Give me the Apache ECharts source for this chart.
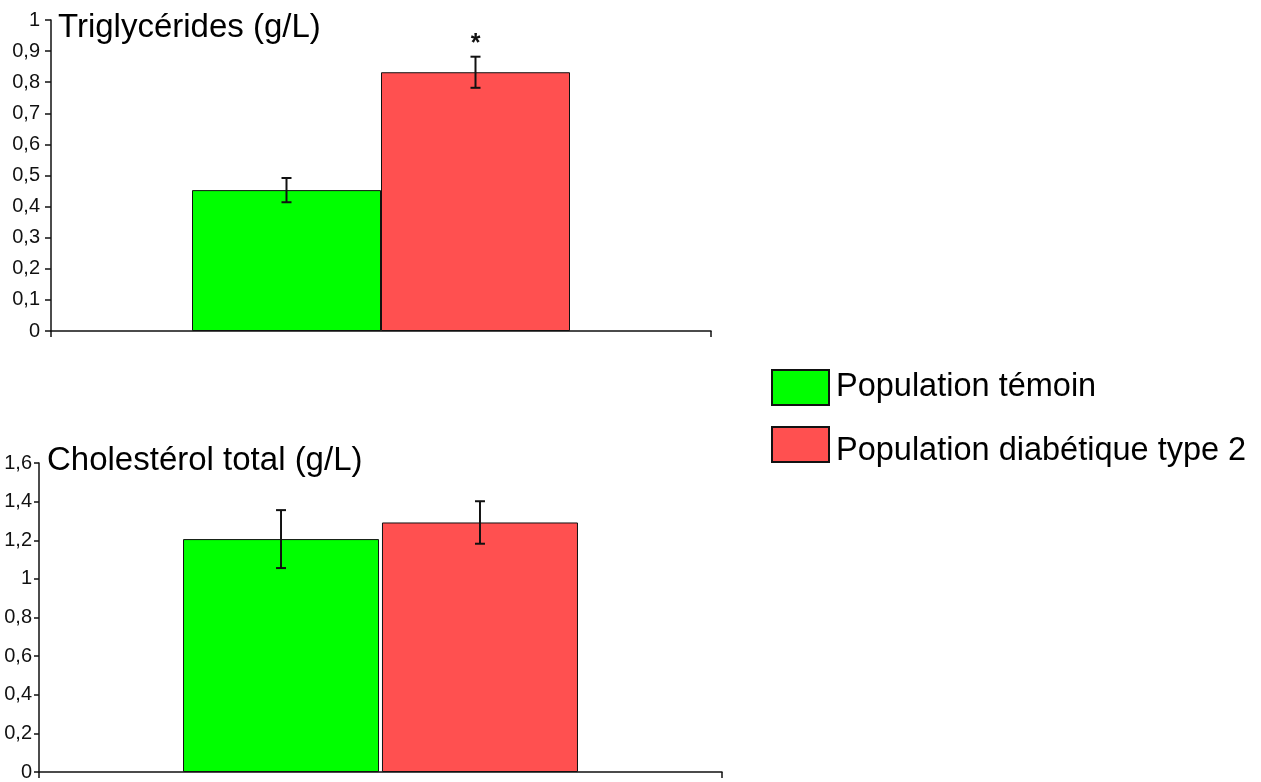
<!DOCTYPE html>
<html>
<head>
<meta charset="utf-8">
<script src="https://cdn.jsdelivr.net/npm/echarts@6/dist/echarts.min.js"></script>
<style>
html,body{margin:0;padding:0;background:#fff;}
#chart{width:1261px;height:782px;}
</style>
</head>
<body>
<div id="chart"></div>
<script>
// ---- data ----
var groups = ['Population témoin', 'Population diabétique type 2'];
var trigTitle = 'Triglycérides (g/L)';
var cholTitle = 'Cholestérol total (g/L)';
var trigMean = [0.453, 0.832];
var trigErr = [0.039, 0.050];
var trigSig = ['', '*'];
var cholMean = [1.206, 1.292];
var cholErr = [0.150, 0.110];
var cholSig = ['', ''];
var trigTicks = {min: 0, max: 1, interval: 0.1};
var cholTicks = {min: 0, max: 1.6, interval: 0.2};

var colors = ['#00ff00', '#ff5050'];
var FONT = '"Liberation Sans", Arial, sans-serif';

function fmt(v) {
  var s = (Math.round(v * 10) / 10).toString();
  return s.replace('.', ',');
}

function errData(mean, err) {
  return mean.map(function (m, i) { return [0, m - err[i], m + err[i], i]; });
}

function makeErr(bw, gap, sig) {
  return function (params, api) {
    var lo = api.value(1), hi = api.value(2), s = api.value(3);
    var pLo = api.coord([0, lo]);
    var pHi = api.coord([0, hi]);
    var x = pLo[0] + (s - 0.5) * (bw + gap);
    var cap = 5;
    var st = {stroke: '#111', lineWidth: 2};
    var children = [
      {type: 'line', shape: {x1: x, y1: pLo[1], x2: x, y2: pHi[1]}, style: st},
      {type: 'line', shape: {x1: x - cap, y1: pLo[1], x2: x + cap, y2: pLo[1]}, style: st},
      {type: 'line', shape: {x1: x - cap, y1: pHi[1], x2: x + cap, y2: pHi[1]}, style: st}
    ];
    if (sig[s]) {
      children.push({type: 'text', style: {text: sig[s], x: x, y: pHi[1],
        fill: '#111', font: 'bold 25px ' + FONT, textAlign: 'center', textVerticalAlign: 'bottom'}});
    }
    return {type: 'group', children: children};
  };
}

function yAxis(idx, t, margin, tick) {
  return {
    type: 'value', gridIndex: idx, min: t.min, max: t.max, interval: t.interval,
    splitLine: {show: false},
    axisLine: {show: true, lineStyle: {color: '#111', width: 1.5}},
    axisTick: {show: true, length: tick, lineStyle: {color: '#111', width: 1.5}},
    axisLabel: {formatter: fmt, color: '#111', fontFamily: FONT, fontSize: 20, margin: margin}
  };
}
function xAxis(idx, name) {
  return {
    type: 'category', gridIndex: idx, data: [name], boundaryGap: true,
    axisLine: {show: true, lineStyle: {color: '#111', width: 1.5}},
    axisTick: {show: true, length: 6, lineStyle: {color: '#111', width: 1.5}},
    axisLabel: {show: false}
  };
}
function bar(name, idx, vals, i, bw, gap) {
  return {
    type: 'bar', name: name, xAxisIndex: idx, yAxisIndex: idx,
    data: [vals[i]], barWidth: bw, barGap: gap,
    itemStyle: {color: colors[i], borderColor: '#111', borderWidth: 1},
    emphasis: {disabled: true}
  };
}

var TBW = 189, BBW = 196;
var option = {
  animation: false,
  backgroundColor: '#fff',
  title: [
    {text: trigTitle, left: 53, top: 6, textStyle: {fontFamily: FONT, fontSize: 33, fontWeight: 'normal', color: '#000'}},
    {text: cholTitle, left: 42, top: 439, textStyle: {fontFamily: FONT, fontSize: 33, fontWeight: 'normal', color: '#000'}}
  ],
  legend: {
    data: groups,
    formatter: function (name) { return name === groups[1] ? '{low|' + name + '}' : '{n|' + name + '}'; },
    orient: 'vertical', left: 771, top: 369, padding: 0, itemWidth: 57, itemHeight: 35, itemGap: 20,
    icon: 'rect', selectedMode: false,
    textStyle: {fontFamily: FONT, fontSize: 32.5, color: '#000', padding: [0, 0, 0, 2],
      rich: {
        n: {fontFamily: FONT, fontSize: 32.5, color: '#000'},
        low: {fontFamily: FONT, fontSize: 32.5, color: '#000', padding: [14, 0, 0, 0]}
      }}
  },
  grid: [
    {left: 51, top: 20, width: 660, height: 311, containLabel: false},
    {left: 39, top: 463, width: 683, height: 310, containLabel: false}
  ],
  xAxis: [xAxis(0, trigTitle), xAxis(1, cholTitle)],
  yAxis: [yAxis(0, trigTicks, 11, 6), yAxis(1, cholTicks, 7, 5)],
  series: [
    bar(groups[0], 0, trigMean, 0, TBW, 0),
    bar(groups[1], 0, trigMean, 1, TBW, 0),
    {type: 'custom', xAxisIndex: 0, yAxisIndex: 0, z: 10, data: errData(trigMean, trigErr),
      encode: {x: 0, y: [1, 2]}, renderItem: makeErr(TBW, 0, trigSig), silent: true},
    bar(groups[0], 1, cholMean, 0, BBW, '1.5%'),
    bar(groups[1], 1, cholMean, 1, BBW, '1.5%'),
    {type: 'custom', xAxisIndex: 1, yAxisIndex: 1, z: 10, data: errData(cholMean, cholErr),
      encode: {x: 0, y: [1, 2]}, renderItem: makeErr(BBW, BBW * 0.015, cholSig), silent: true}
  ]
};
var chart = echarts.init(document.getElementById('chart'), null, {renderer: 'canvas'});
chart.setOption(option);
</script>
</body>
</html>
